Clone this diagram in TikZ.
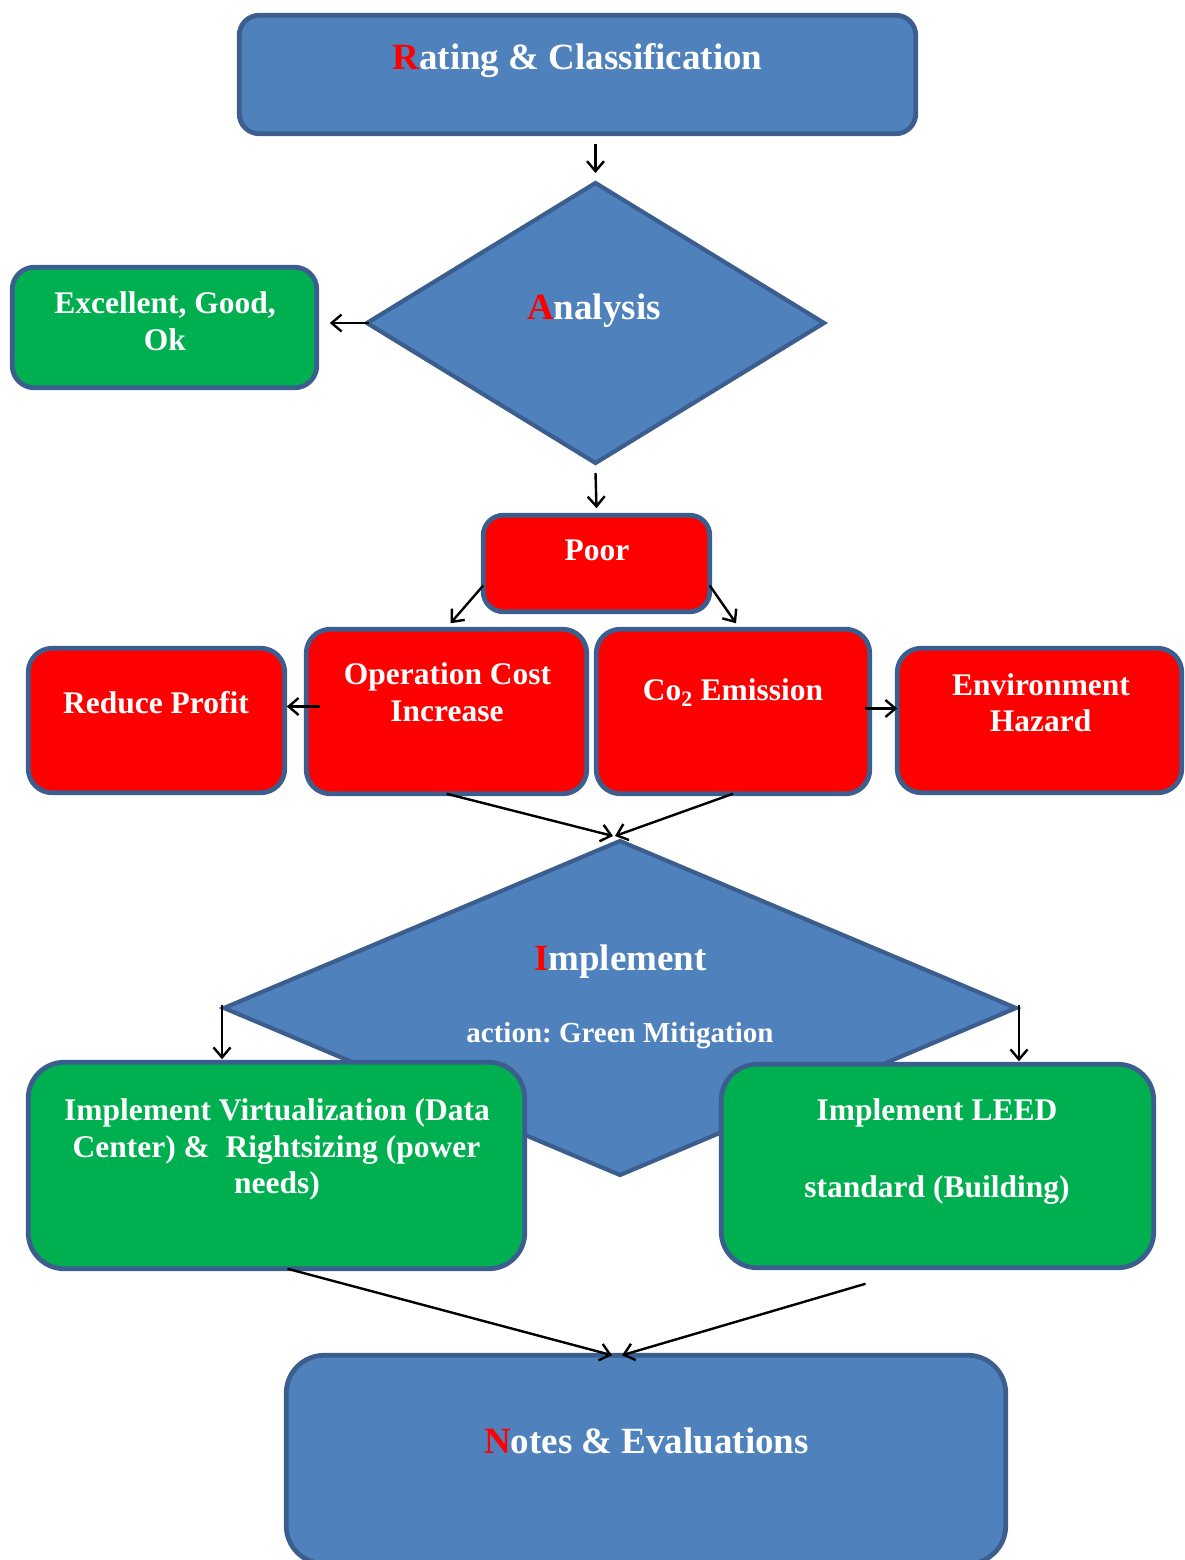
\documentclass[tikz,border=0pt]{standalone}
\usepackage{fontspec}
\setmainfont{Liberation Serif}
\usetikzlibrary{shapes.geometric,arrows.meta}
\frenchspacing
\definecolor{boxblue}{HTML}{4F81BD}
\definecolor{edgeblue}{HTML}{3B5E8E}
\definecolor{boxgreen}{HTML}{00B050}
\definecolor{boxred}{HTML}{FF0000}
\definecolor{initred}{HTML}{FF0000}
\tikzset{
  box/.style={draw=edgeblue, line width=4.8pt, rectangle, rounded corners=#1, inner sep=0pt, outer sep=0pt},
  box/.default=22pt,
  bluebox/.style={box=#1, fill=boxblue},
  bluebox/.default=22pt,
  greenbox/.style={box=#1, fill=boxgreen},
  greenbox/.default=22pt,
  redbox/.style={box=#1, fill=boxred},
  redbox/.default=22pt,
  decision/.style={draw=edgeblue, line width=4.2pt, fill=boxblue, diamond, inner sep=0pt, outer sep=0pt},
  head/.style={text=white, font=\fontsize{37}{44}\selectfont\bfseries, anchor=base, inner sep=0pt},
  body/.style={text=white, font=\fontsize{31.5}{38}\selectfont\bfseries, anchor=base, inner sep=0pt},
  small/.style={text=white, font=\fontsize{29}{35}\selectfont\bfseries, anchor=base, inner sep=0pt},
  arr/.style={draw=black, line width=2.4pt, -{Straight Barb[length=10pt,width=17pt]}},
}
\begin{document}
\begin{tikzpicture}[x=1pt,y=-1pt]
\useasboundingbox (0,0) rectangle (1185,1560);
\clip (0,0) rectangle (1185,1560);

% top part
\node[bluebox=20pt, minimum width=676.5pt, minimum height=118.5pt] (rating) at (577.5,74.5) {};
\node[decision, minimum width=457pt, minimum height=280pt] (analysis) at (595.5,323) {};
\node[greenbox=22pt, minimum width=304.5pt, minimum height=120.5pt] (exc) at (164.5,327.5) {};
\node[redbox=20pt, minimum width=226.5pt, minimum height=96.5pt] (poor) at (596.5,563.5) {};
\node[redbox=24pt, minimum width=256.5pt, minimum height=144.5pt] (rp) at (156.5,720.5) {};
\node[redbox=24pt, minimum width=280.5pt, minimum height=164.5pt] (op) at (446.5,711.5) {};
\node[redbox=24pt, minimum width=273.5pt, minimum height=164.5pt] (co2) at (733,711.5) {};
\node[redbox=24pt, minimum width=284.5pt, minimum height=144.5pt] (env) at (1039.5,720.5) {};

% lower part
\node[decision, minimum width=792pt, minimum height=334pt] (impl) at (620,1008) {};
\node[greenbox=36pt, minimum width=496.5pt, minimum height=206.5pt] (vg) at (276.5,1165.5) {};
\node[greenbox=36pt, minimum width=432.5pt, minimum height=203.5pt] (leed) at (937.5,1166) {};
\node[bluebox=38pt, minimum width=719.5pt, minimum height=208.5pt] (notes) at (646,1459.5) {};

% helper coordinates
\coordinate (a1) at (rating.south -| analysis.north);
\coordinate (a2) at (analysis.west -| exc.east);
\coordinate (a3) at (op.west -| rp.east);
\coordinate (a4) at (co2.east -| env.west);
\coordinate (a5) at (impl.west |- vg.north);
\coordinate (a6) at (impl.east |- leed.north);
\coordinate (a7) at ([xshift=-72pt,yshift=-16pt]leed.south);

% connectors
\draw[arr] ([yshift=-10pt]a1) -- ([yshift=10pt]analysis.north);
\draw[arr] ([xshift=2pt]analysis.west) -- ([xshift=13pt]a2);
\draw[arr] ([yshift=-10pt]analysis.south) -- ([yshift=7pt]poor.north);
\draw[arr] ([yshift=-22pt]poor.west) -- ([xshift=4pt,yshift=6pt]op.north);
\draw[arr] ([yshift=-22pt]poor.east) -- ([xshift=3pt,yshift=6pt]co2.north);
\draw[arr] ([xshift=14pt,yshift=5pt]op.west) -- ([xshift=2pt,yshift=5pt]a3);
\draw[arr] ([xshift=-5pt,yshift=3pt]co2.east) -- ([yshift=3pt]a4);
\draw[arr] (op.south) -- ([xshift=-7pt,yshift=5pt]impl.north);
\draw[arr] (co2.south) -- ([xshift=-5pt,yshift=5pt]impl.north);
\draw[arr] ([xshift=-2pt,yshift=3pt]impl.west) -- ([xshift=-2pt,yshift=3pt]a5);
\draw[arr] ([xshift=3pt,yshift=3pt]impl.east) -- ([xshift=3pt,yshift=3pt]a6);
\draw[arr] ([xshift=11pt]vg.south) -- ([xshift=-34pt]notes.north);
\draw[arr] (a7) -- ([xshift=-24pt]notes.north);

% texts
\node[head] (t-rating) at (577.5,70) {\textcolor{initred}{R}ating \& Classification};
\node[head] (t-analysis) at (594,319) {\textcolor{initred}{A}nalysis};
\node[body] (t-exc1) at (165,313) {Excellent, Good,};
\node[body] (t-exc2) at (165,350) {Ok};
\node[body] (t-poor) at (597,560) {Poor};
\node[body] (t-rp) at (156,713) {Reduce Profit};
\node[body] (t-op1) at (447.5,684) {Operation Cost};
\node[body] (t-op2) at (447,721.7) {Increase};
\node[body] (t-co2) at (733,700) {Co\textsubscript{2} Emission};
\node[body] (t-env1) at (1041,695) {Environment};
\node[body] (t-env2) at (1040.5,731.7) {Hazard};
\node[head] (t-impl) at (620.5,970) {\textcolor{initred}{I}mplement};
\node[small] (t-action) at (620,1042) {action: Green Mitigation};
\node[body] (t-vg1) at (277,1120) {Implement Virtualization (Data};
\node[body] (t-vg2) at (276.5,1157) {Center) \&~ Rightsizing (power};
\node[body] (t-vg3) at (277,1193) {needs)};
\node[body] (t-leed1) at (937,1120) {Implement LEED};
\node[body] (t-leed2) at (937,1197) {standard (Building)};
\node[head] (t-notes) at (646.5,1453) {\textcolor{initred}{N}otes \& Evaluations};
\end{tikzpicture}
\end{document}
